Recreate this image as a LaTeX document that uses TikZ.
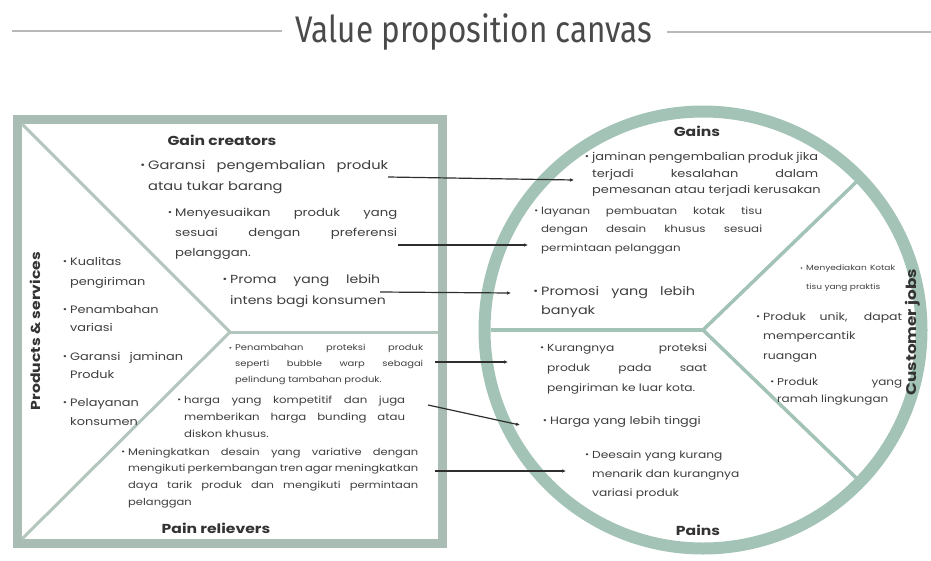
\documentclass[tikz,border=0pt]{standalone}
\usepackage{fontspec}
\setmainfont{Poppins}[FakeStretch=1.2]
\newfontfamily\titlefont{Fira Sans}[FakeStretch=0.85]
\usetikzlibrary{arrows.meta}
\definecolor{sqframe}{HTML}{A9BDB4}
\definecolor{circframe}{HTML}{A3C3B6}
\definecolor{divider}{HTML}{B2C6BD}
\definecolor{titleline}{HTML}{B9B9B9}
\definecolor{titletxt}{HTML}{4A4A4A}
\definecolor{bodytxt}{HTML}{3E3E3E}
\definecolor{headtxt}{HTML}{333333}
\definecolor{arrowcol}{HTML}{2E2E2E}
\newcommand\Jl[2]{\hbox to #1pt{#2}}
\newcommand\Nl[1]{\hbox{#1}}
\newcommand\bul{\llap{\raisebox{0.05em}{\scalebox{0.8}{\textbullet}}\hspace{3pt}}}
\tikzset{
  txt/.style={inner sep=0pt, text=bodytxt, anchor=base west},
  head/.style={inner sep=0pt, text=headtxt, font=\bfseries\fontsize{13}{15}\selectfont},
  vhead/.style={inner sep=0pt, text=headtxt, rotate=90, font=\bfseries\fontsize{13}{15}\selectfont},
  link/.style={draw=arrowcol, line width=1.2pt, -{Latex[length=4pt,width=3.6pt]}},
}
\newcommand\blk[5]{\node[txt] (#1) at (#2) {\fontsize{#3}{#4}\selectfont\vtop{#5}};}
\begin{document}
\begin{tikzpicture}[x=1pt,y=-1pt]
\useasboundingbox (0,0) rectangle (931,560);
% title
\coordinate (tl1) at (12,31); \coordinate (tl2) at (282,31);
\coordinate (tr1) at (667,32); \coordinate (tr2) at (931,32);
\draw[titleline, line width=2.6pt] (tl1) -- (tl2);
\draw[titleline, line width=2.6pt] (tr1) -- (tr2);
\node[inner sep=0pt, anchor=base, text=titletxt, font=\titlefont\fontsize{37}{40}\selectfont] (title) at (474,42) {Value proposition canvas};
% square
\coordinate (sqA) at (17.5,119.5); \coordinate (sqB) at (442.5,543.5);
\draw[sqframe, line width=9pt] (sqA) rectangle (sqB);
\coordinate (chTL) at (22,124); \coordinate (chTip) at (230,332);
\coordinate (chBL) at (22,539); \coordinate (chR) at (438,332);
\draw[divider, line width=3pt] (chTL) -- (chTip) -- (chBL);
\draw[divider, line width=3pt] (chTip) -- (chR);
% circle
\coordinate (cc) at (703,330);
\draw[circframe, line width=12pt] (cc) circle (218.5);
\draw[circframe, line width=3.5pt] (cc) -- ++(-212,0);
\draw[circframe, line width=3.5pt] (cc) -- ++(44:213);
\draw[circframe, line width=3.5pt] (cc) -- ++(-44:213);
% headings
\node[head, anchor=base] (hgc) at (222,145) {Gain creators};
\node[head, anchor=base] (hpr) at (216,533) {Pain relievers};
\node[head, anchor=base] (hg) at (697,136) {Gains};
\node[head, anchor=base] (hp) at (698,535) {Pains};
\node[vhead] (hps) at (35,331) {Products \& services};
\node[vhead, font=\bfseries\fontsize{14}{16}\selectfont] (hcj) at (913,332) {Customer jobs};
% gain creators
\blk{gc1}{148,169.5}{12.2}{21}{\Jl{240}{\bul Garansi pengembalian produk}\Nl{atau tukar barang}}
\blk{gc2}{175,216}{11}{20}{\Jl{222}{\bul Menyesuaikan produk yang}\Jl{222}{sesuai dengan preferensi}\Nl{pelanggan.}}
\blk{gc3}{230,283}{11.7}{21}{\Jl{150}{\bul Proma yang lebih}\Nl{intens bagi konsumen}}
% products & services
\blk{ps1}{70,265}{10.75}{20}{\Nl{\bul Kualitas}\Nl{pengiriman}}
\blk{ps2}{70,313}{10.75}{18}{\Nl{\bul Penambahan}\Nl{variasi}}
\blk{ps3}{70,360}{10.75}{18}{\Jl{113}{\bul Garansi jaminan}\Nl{Produk}}
\blk{ps4}{70,406}{10.75}{19}{\Nl{\bul Pelayanan}\Nl{konsumen}}
% pain relievers
\blk{pr1}{235,350.5}{8.3}{16}{\Jl{188}{\bul Penambahan proteksi produk}\Jl{188}{seperti bubble warp sebagai}\Nl{pelindung tambahan produk.}}
\blk{pr2}{184,403}{9.8}{17}{\Jl{221}{\bul harga yang kompetitif dan juga}\Jl{221}{memberikan harga bunding atau}\Nl{diskon khusus.}}
\blk{pr3}{128,455}{9.6}{16.7}{\Jl{290}{\bul Meningkatkan desain yang variative dengan}\Jl{290}{mengikuti perkembangan tren agar meningkatkan}\Jl{290}{daya tarik produk dan mengikuti permintaan}\Nl{pelanggan}}
% gains
\blk{g1}{592,160.5}{10.8}{16.5}{\Jl{226}{\bul jaminan pengembalian produk jika}\Jl{226}{terjadi kesalahan dalam}\Nl{pemesanan atau terjadi kerusakan}}
\blk{g2}{541,214}{9.9}{18.5}{\Jl{221}{\bul layanan pembuatan kotak tisu}\Jl{221}{dengan desain khusus sesuai}\Nl{permintaan pelanggan}}
\blk{g3}{541,295.5}{12}{19}{\Jl{154}{\bul Promosi yang lebih}\Nl{banyak}}
% customer jobs
\blk{cj1}{806,270.5}{7.5}{19}{\Jl{89}{\bul Menyediakan Kotak}\Nl{tisu yang praktis}}
\blk{cj2}{763,320}{10.4}{19.5}{\Jl{139}{\bul Produk unik, dapat}\Nl{mempercantik}\Nl{ruangan}}
\blk{cj3}{777,385}{10}{17}{\Jl{125}{\bul Produk yang}\Nl{ramah lingkungan}}
% pains
\blk{p1}{547,351}{10.2}{20}{\Jl{160}{\bul Kurangnya proteksi}\Jl{160}{produk pada saat}\Nl{pengiriman ke luar kota.}}
\blk{p2}{550,424.5}{10.7}{13}{\Nl{\bul Harga yang lebih tinggi}}
\blk{p3}{592,458}{10.2}{19}{\Nl{\bul Deesain yang kurang}\Nl{menarik dan kurangnya}\Nl{variasi produk}}
% connectors
\coordinate (a1s) at (388,177); \coordinate (a1e) at (574,180);
\coordinate (a2s) at (398,245); \coordinate (a2e) at (528,245);
\coordinate (a3s) at (380,292); \coordinate (a3e) at (511,293);
\coordinate (a4s) at (435,362); \coordinate (a4e) at (508,362);
\coordinate (a5s) at (428,405); \coordinate (a5e) at (520,425);
\coordinate (a6s) at (435,471); \coordinate (a6e) at (566,471);
\draw[link] (a1s) -- (a1e);
\draw[link] (a2s) -- (a2e);
\draw[link] (a3s) -- (a3e);
\draw[link] (a4s) -- (a4e);
\draw[link] (a5s) -- (a5e);
\draw[link] (a6s) -- (a6e);
\end{tikzpicture}
\end{document}
